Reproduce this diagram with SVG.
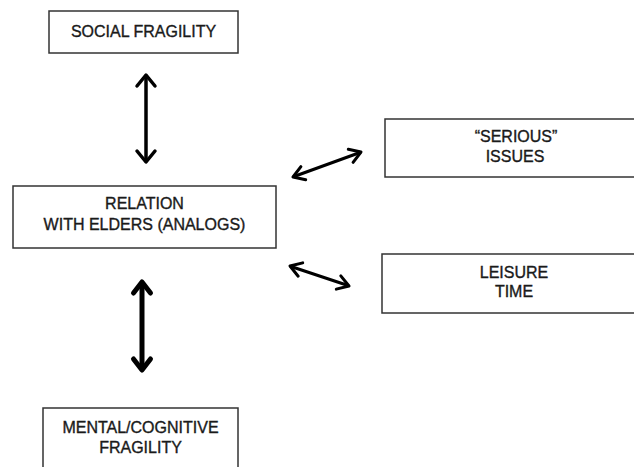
<svg xmlns="http://www.w3.org/2000/svg" width="634" height="467" viewBox="0 0 634 467">
<style>
.box{fill:#fff;stroke:#333;stroke-width:1.5}
.t{font-family:"Liberation Sans",Arial,sans-serif;font-size:16px;fill:#1a1a1a;stroke:#1a1a1a;stroke-width:0.35;text-anchor:middle}
.a{fill:none;stroke:#000;stroke-linecap:round;stroke-linejoin:round}
</style>
<rect width="634" height="467" fill="#fff"/>
<g id="social">
<rect class="box" x="49" y="11" width="189" height="42"/>
<text class="t" x="143.5" y="37">SOCIAL FRAGILITY</text>
</g>
<g id="relation">
<rect class="box" x="13" y="186" width="263" height="62"/>
<text class="t" x="144.5" y="209">RELATION</text>
<text class="t" x="144.5" y="230">WITH ELDERS (ANALOGS)</text>
</g>
<g id="serious">
<rect class="box" x="385" y="119" width="260" height="58"/>
<text class="t" x="516" y="141.5">“SERIOUS”</text>
<text class="t" x="515" y="162">ISSUES</text>
</g>
<g id="leisure">
<rect class="box" x="382" y="254" width="262" height="59"/>
<text class="t" x="514" y="278">LEISURE</text>
<text class="t" x="514" y="297">TIME</text>
</g>
<g id="mental">
<rect class="box" x="43" y="408" width="195" height="70"/>
<text class="t" x="140.5" y="433">MENTAL/COGNITIVE</text>
<text class="t" x="140.5" y="453">FRAGILITY</text>
</g>
<g id="connectors">
<g class="a" stroke-width="3.5">
<line x1="146" y1="77" x2="146" y2="160"/>
<path d="M137,86 L146,75 L155,86 M137,151 L146,162 L155,151"/>
</g>
<g class="a" stroke-width="5">
<line x1="142" y1="285" x2="142" y2="367"/>
<path d="M133.5,293 L142,282 L150.5,293 M133.5,359 L142,370 L150.5,359"/>
</g>
<g class="a" stroke-width="3">
<line x1="294" y1="176.5" x2="360" y2="152.5"/>
<path d="M305.7,179.8 L293,177 L300.9,166.6 M353.1,162.4 L361,152 L348.3,149.2"/>
</g>
<g class="a" stroke-width="3">
<line x1="291" y1="266.5" x2="348" y2="285.5"/>
<path d="M298.2,276.2 L290,266 L302.7,262.9 M336.3,289.1 L349,286 L340.8,275.9"/>
</g>
</g>
</svg>
